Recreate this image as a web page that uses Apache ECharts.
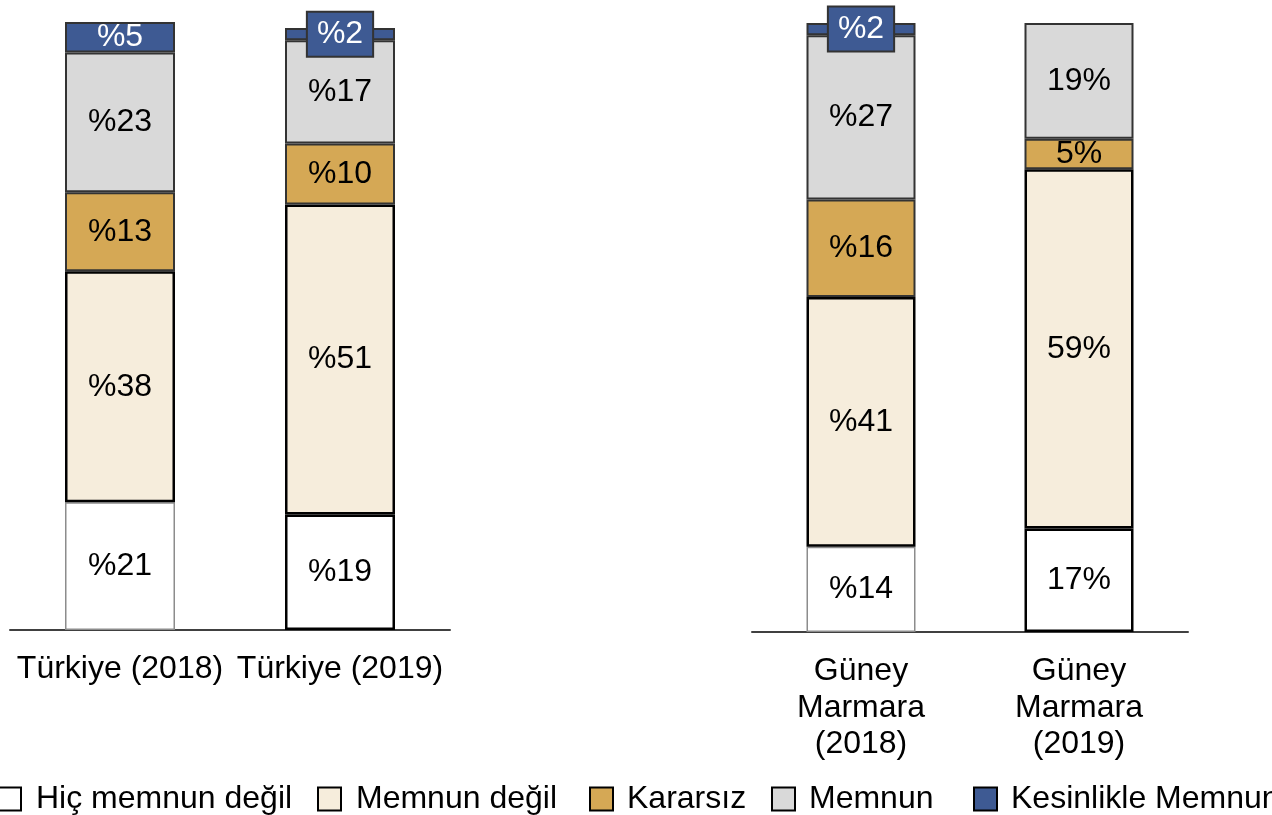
<!DOCTYPE html>
<html>
<head>
<meta charset="utf-8">
<script src="https://cdn.jsdelivr.net/npm/echarts@6/dist/echarts.min.js"></script>
<style>
  html, body { margin: 0; padding: 0; background: #ffffff; }
  #chart { width: 1272px; height: 815px; }
</style>
</head>
<body>
<div id="chart"></div>
<script>
// Survey categories: Türkiye in the left panel, Güney Marmara in the right panel
const categoriesTurkiye = ['Türkiye (2018)', 'Türkiye (2019)'];
const categoriesMarmara = ['Güney\nMarmara\n(2018)', 'Güney\nMarmara\n(2019)'];

const seriesNames = ['Hiç memnun değil', 'Memnun değil', 'Kararsız', 'Memnun', 'Kesinlikle Memnun'];

// Shares (%) per answer, order: Türkiye 2018, Türkiye 2019, Güney Marmara 2018, Güney Marmara 2019
const hicMemnunDegil   = [21, 19, 14, 17];
const memnunDegil      = [38, 51, 41, 59];
const kararsiz         = [13, 10, 16, 5];
const memnun           = [23, 17, 27, 19];
const kesinlikleMemnun = [5, 2, 2, 0.5];

const FONT = '"Liberation Sans", Arial, sans-serif';
const colors = ['#ffffff', '#f6eddc', '#d5a855', '#d9d9d9', '#3e5a93'];
const allValues = [hicMemnunDegil, memnunDegil, kararsiz, memnun, kesinlikleMemnun];

// Güney Marmara 2019 writes the percent sign after the number
function formatPct(value, idx) {
  return idx === 3 ? value + '%' : '%' + value;
}

function segmentStyle(s, idx) {
  if (s === 0) {
    return idx % 2 === 0
      ? { color: colors[0], borderColor: '#8c8c8c', borderWidth: 1.5 }
      : { color: colors[0], borderColor: '#000000', borderWidth: 2.5 };
  }
  if (s === 1) return { color: colors[1], borderColor: '#000000', borderWidth: 2.5 };
  return { color: colors[s], borderColor: '#333333', borderWidth: 2 };
}

function segmentLabel(s, idx, value) {
  const base = {
    show: true,
    position: 'inside',
    fontFamily: FONT,
    fontSize: 32,
    color: s === 4 ? '#ffffff' : '#000000',
    formatter: () => formatPct(value, idx)
  };
  if (s === 4) {
    if (value < 1) return { show: false };
    if (value < 4) {
      // thin top segment: label sits in a boxed tag over the bar top
      Object.assign(base, {
        backgroundColor: colors[4],
        borderColor: '#333333',
        borderWidth: 2,
        padding: [6, 9, 4, 9],
        lineHeight: 33
      });
    }
  }
  return base;
}

function buildSeries(panel, indices, barWidth) {
  return seriesNames.map((name, s) => ({
    name: name,
    type: 'bar',
    stack: panel,
    xAxisIndex: panel === 'left' ? 0 : 1,
    yAxisIndex: panel === 'left' ? 0 : 1,
    barWidth: barWidth,
    z: 2 + s,
    itemStyle: { color: colors[s], borderColor: '#000000', borderWidth: 2 },
    data: indices.map(i => ({
      value: allValues[s][i],
      itemStyle: segmentStyle(s, i),
      label: segmentLabel(s, i, allValues[s][i])
    }))
  }));
}

const axisBase = {
  type: 'category',
  axisTick: { show: false },
  axisLine: { lineStyle: { color: '#404040', width: 2 } },
  axisLabel: { fontFamily: FONT, fontSize: 32, color: '#000000', lineHeight: 36.5, margin: 21, interval: 0 }
};
const yBase = { type: 'value', min: 0, max: 100, show: false, splitLine: { show: false } };

// One legend per entry so that each item can sit at its own position
const legendLefts = [-3, 317, 589, 771, 973];
const legendTextGap = [10, 10, 9, 9, 9];
const legends = seriesNames.map((name, s) => ({
  data: [name],
  left: legendLefts[s],
  top: 781,
  padding: 0,
  itemWidth: 23,
  itemHeight: 23,
  icon: 'rect',
  itemStyle: { color: colors[s], borderColor: '#000000', borderWidth: 2 },
  textStyle: { fontFamily: FONT, fontSize: 32, color: '#000000', lineHeight: 36, padding: [0, 0, 0, legendTextGap[s]] },
  selectedMode: false
}));

const option = {
  backgroundColor: '#ffffff',
  animation: false,
  legend: legends,
  grid: [
    { left: 10, width: 440, top: 22, bottom: 185 },
    { left: 752, width: 436, top: 23, bottom: 183 }
  ],
  xAxis: [
    Object.assign({}, axisBase, { gridIndex: 0, data: categoriesTurkiye }),
    Object.assign({}, axisBase, { gridIndex: 1, data: categoriesMarmara })
  ],
  yAxis: [
    Object.assign({}, yBase, { gridIndex: 0 }),
    Object.assign({}, yBase, { gridIndex: 1 })
  ],
  series: [].concat(
    buildSeries('left', [0, 1], 110),
    buildSeries('right', [2, 3], 109)
  )
};

const chart = echarts.init(document.getElementById('chart'), null, { renderer: 'canvas' });
chart.setOption(option);
</script>
</body>
</html>
